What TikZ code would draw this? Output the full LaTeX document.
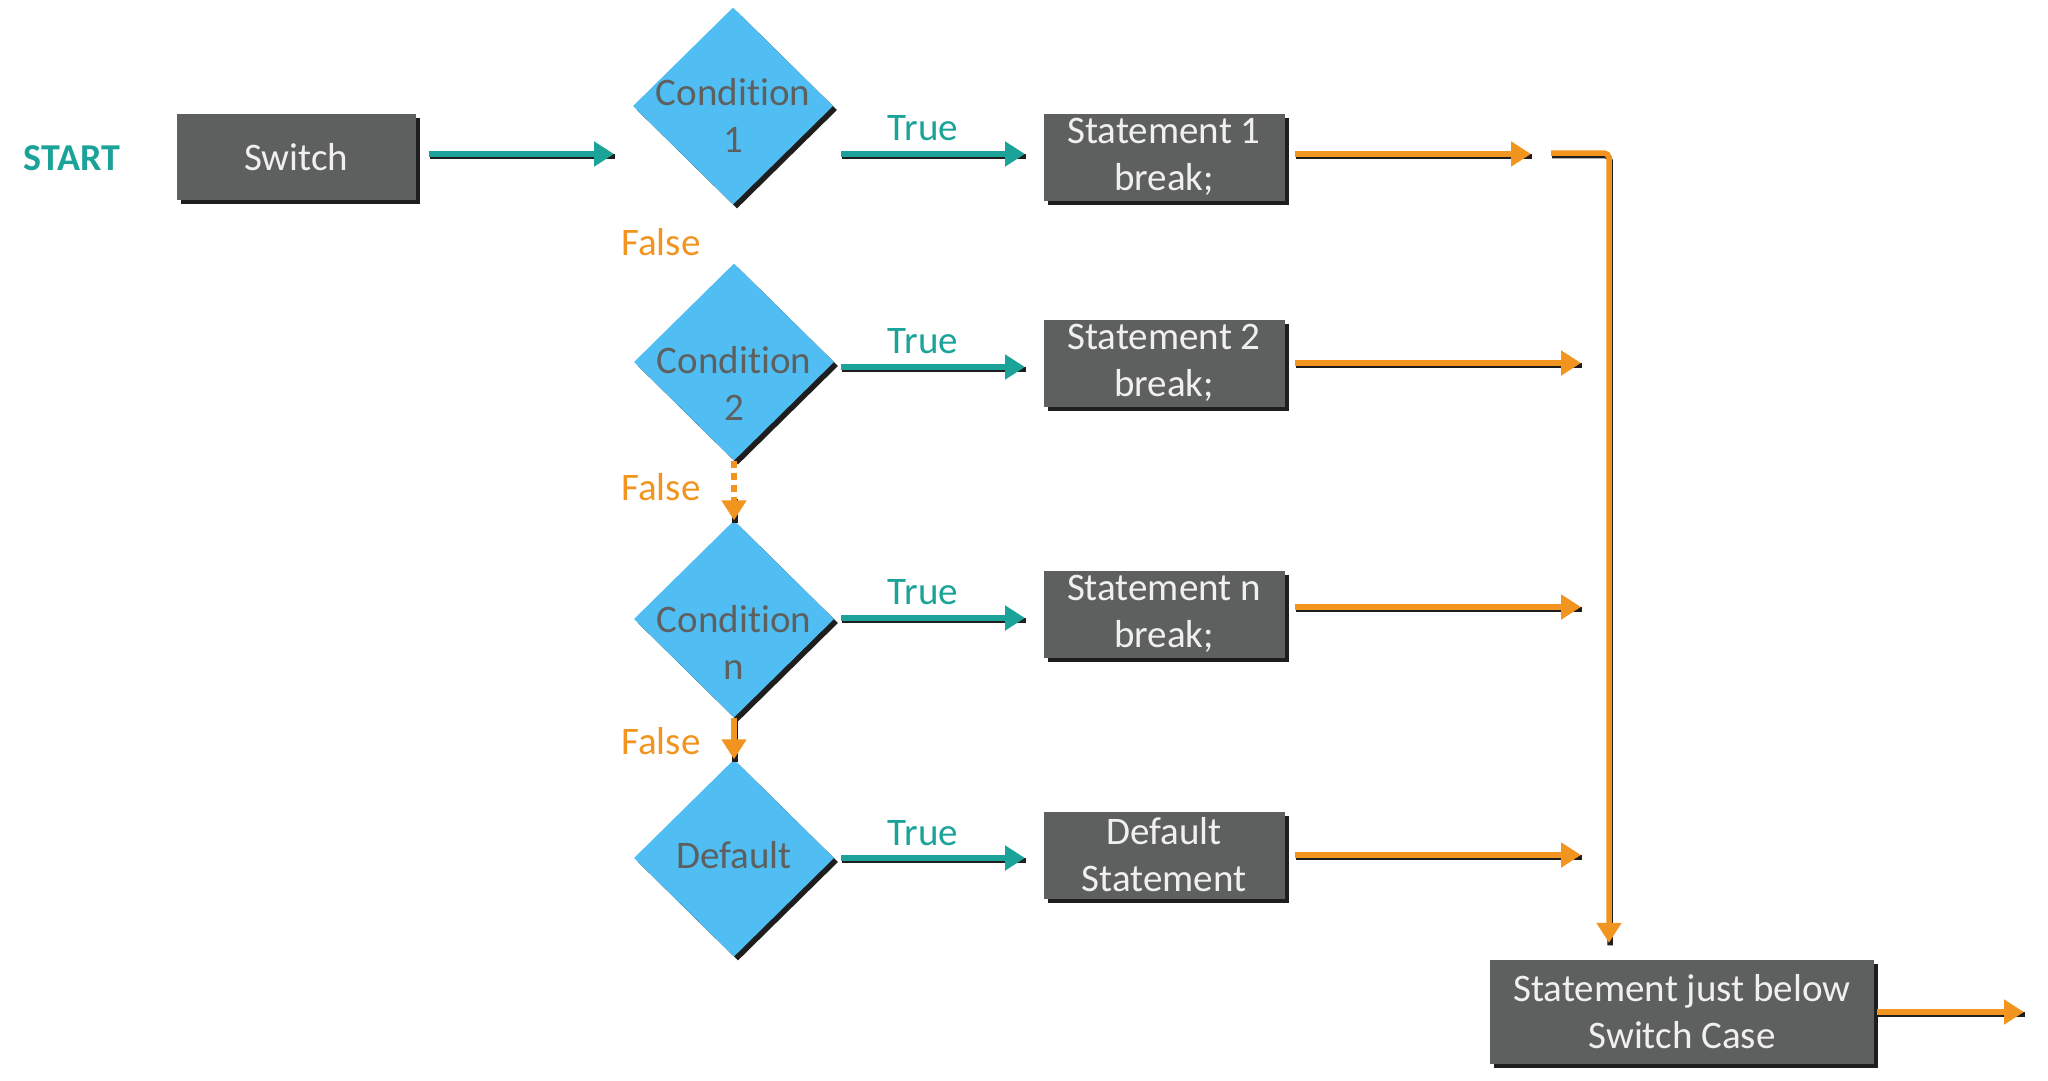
\documentclass[tikz,border=0pt]{standalone}
\usepackage{fontspec}
\setmainfont{Carlito}[RawFeature={-liga}]
\usetikzlibrary{shapes.geometric,shadows,arrows.meta}
\definecolor{tealc}{HTML}{1BA39A}
\definecolor{orangec}{HTML}{F29420}
\definecolor{diablue}{HTML}{50BEF2}
\definecolor{boxgray}{HTML}{5E605F}
\definecolor{boxtext}{HTML}{F0F0F0}
\definecolor{shadowc}{HTML}{1E1E1E}
\tikzset{
  bigfont/.style={font=\fontsize{39}{47}\selectfont},
  gbox/.style={bigfont, fill=boxgray, text=boxtext, minimum width=241pt, minimum height=87pt,
    align=center, inner sep=0pt,
    drop shadow={shadow xshift=4pt, shadow yshift=-4pt, fill=shadowc, opacity=1}},
  dia/.style={diamond, aspect=1, fill=diablue, minimum width=200pt, minimum height=197pt, inner sep=0pt,
    drop shadow={shadow xshift=4pt, shadow yshift=-4pt, fill=shadowc, opacity=1}},
  diatext/.style={bigfont, text=boxgray, align=center, inner sep=0pt},
  truelbl/.style={bigfont, text=tealc, inner sep=0pt},
  falselbl/.style={bigfont, text=orangec, inner sep=0pt},
  arrshadow/.style={preaction={draw=shadowc, line width=5.5pt, -, transform canvas={shift={(1pt,-2.5pt)}}}},
  tarrow/.style={arrshadow, draw=tealc, line width=5.5pt, -{Triangle[length=20pt,width=24pt]}},
  oarrow/.style={arrshadow, draw=orangec, line width=5.5pt, -{Triangle[length=20pt,width=24pt]}},
  oline/.style={draw=orangec, line width=5.5pt},
}
\begin{document}
\begin{tikzpicture}[x=1pt,y=-1pt]
\useasboundingbox (0,0) rectangle (2048,1081);

% start
\node[text=tealc, font=\fontsize{38}{44}\selectfont\bfseries, inner sep=0pt] (start) at (72,158) {START};
\node[gbox, minimum width=239pt, minimum height=86pt] (sw) at (296,157) {Switch};

% diamonds
\node[dia] (c1) at (733,106) {};
\node[diatext] (c1t) at (733,115) {Condition\\1};
\node[dia] (c2) at (734,362) {};
\node[diatext] (c2t) at (734,383) {Condition\\2};
\node[dia] (cn) at (734,619) {};
\node[diatext] (cnt) at (734,642) {Condition\\n};
\node[dia] (cd) at (734,858) {};
\node[diatext] (cdt) at (734,855) {Default};

% statement boxes
\node[gbox] (s1) at (1164,157) {Statement 1\\break;};
\node[gbox] (s2) at (1164,363) {Statement 2\\break;};
\node[gbox] (sn) at (1164,614) {Statement n\\break;};
\node[gbox] (sd) at (1164,855) {Default\\Statement};
\node[gbox, minimum width=384pt, minimum height=104pt] (fin) at (1682,1012) {Statement just below\\Switch Case};

% labels
\node[truelbl] (t1) at (923,128) {True};
\node[truelbl] (t2) at (923,341) {True};
\node[truelbl] (tn) at (923,592) {True};
\node[truelbl] (td) at (923,833) {True};
\node[falselbl] (f1) at (661,242) {False};
\node[falselbl] (f2) at (661,487) {False};
\node[falselbl] (fn) at (661,741) {False};

% teal arrows
\coordinate (a0e) at (614,154);
\draw[tarrow] (sw.east |- a0e) ++(13,0) coordinate (a0) -- (a0e);
\coordinate (t1s) at (841,154); \coordinate (t1e) at (1025,154);
\draw[tarrow] (t1s) -- (t1e);
\coordinate (t2s) at (841,367); \coordinate (t2e) at (1025,367);
\draw[tarrow] (t2s) -- (t2e);
\coordinate (tns) at (841,618); \coordinate (tne) at (1025,618);
\draw[tarrow] (tns) -- (tne);
\coordinate (tds) at (841,858); \coordinate (tde) at (1025,858);
\draw[tarrow] (tds) -- (tde);

% false arrows
\draw[oline, dash pattern=on 7pt off 5pt] (c2.south) -- ++(0,36) coordinate (f2m);
\draw[oarrow] (f2m) -- (cn.north);
\draw[oarrow] (cn.south) -- (cd.north);

% orange outputs
\coordinate (o1e) at (1531,154);
\draw[oarrow] (s1.east |- o1e) ++(10,0) coordinate (o1s) -- (o1e);
\coordinate (o2e) at (1581,363);
\draw[oarrow] (s2.east |- o2e) ++(10,0) coordinate (o2s) -- (o2e);
\coordinate (one) at (1581,607);
\draw[oarrow] (sn.east |- one) ++(10,0) coordinate (ons) -- (one);
\coordinate (ode) at (1581,855);
\draw[oarrow] (sd.east |- ode) ++(10,0) coordinate (ods) -- (ode);

% return line
\coordinate (r0) at (1551,153);
\coordinate (r1) at (1609,153);
\draw[oarrow, rounded corners=5pt] (r0) -- (r1) -- ([yshift=17pt]r1 |- fin.north);

% final arrow
\coordinate (fe) at (2024,1012);
\draw[oarrow] (fin.east) ++(3,0) coordinate (fs) -- (fe);
\end{tikzpicture}
\end{document}
